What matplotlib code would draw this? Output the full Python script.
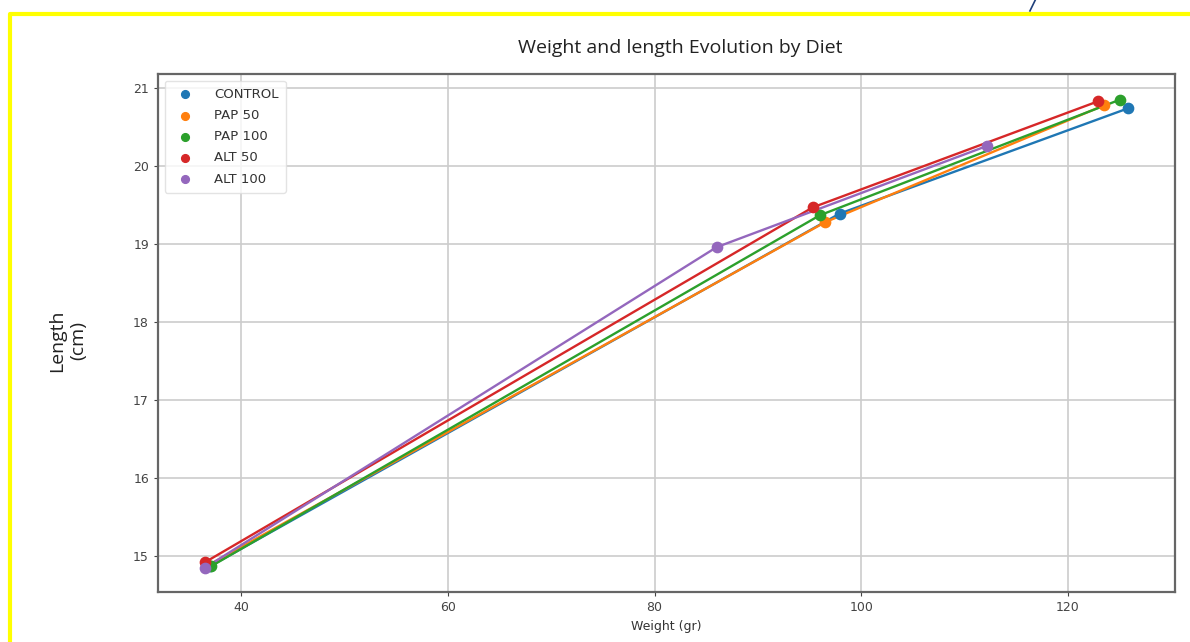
import matplotlib.pyplot as plt
from matplotlib.lines import Line2D

# Diet groups and their (weight, length) measurements over time
diets = ["CONTROL", "PAP 50", "PAP 100", "ALT 50", "ALT 100"]
colors = ["#1f77b4", "#ff7f0e", "#2ca02c", "#d62728", "#9467bd"]

control_w = [37.0, 97.9, 125.8]
control_l = [14.87, 19.39, 20.74]
pap50_w = [36.8, 96.5, 123.5]
pap50_l = [14.88, 19.28, 20.78]
pap100_w = [37.1, 96.0, 125.0]
pap100_l = [14.87, 19.37, 20.85]
alt50_w = [36.5, 95.3, 122.9]
alt50_l = [14.92, 19.47, 20.83]
alt100_w = [36.5, 86.0, 112.2]
alt100_l = [14.85, 18.96, 20.26]

weights = [control_w, pap50_w, pap100_w, alt50_w, alt100_w]
lengths = [control_l, pap50_l, pap100_l, alt50_l, alt100_l]

fig = plt.figure(figsize=(11.9, 6.42), dpi=100)
ax = fig.add_axes([0.1328, 0.0779, 0.8546, 0.8068])

for name, c, w, l in zip(diets, colors, weights, lengths):
    ax.plot(w, l, color=c, linewidth=1.7, zorder=2)
    ax.scatter(w, l, color=c, s=55, label=name, zorder=3)

ax.set_xlim(31.97, 130.35)
ax.set_ylim(14.54, 21.18)
ax.set_xticks([40, 60, 80, 100, 120])
ax.set_yticks([15, 16, 17, 18, 19, 20, 21])
ax.grid(True, color="#cccccc", linewidth=1.2)
ax.set_axisbelow(True)
ax.tick_params(labelsize=9, colors="#444444", length=3)
for s in ax.spines.values():
    s.set_color("#666666")
    s.set_linewidth(1.6)

ax.legend(loc="upper left", fontsize=9.5, labelcolor="#333333",
          handletextpad=1.2, borderpad=0.55, labelspacing=0.62,
          markerscale=0.75, framealpha=0.8, edgecolor="#dddddd")

ax.set_xlabel("Weight (gr)", fontsize=9, color="#333333", labelpad=4)
fig.text(0.057, 0.47, "Length\n(cm)", rotation=90, ha="center", va="center",
         fontsize=14, family="Open Sans", color="#222222", linespacing=1.25)
fig.text(0.572, 0.925, "Weight and length Evolution by Diet", ha="center",
         va="center", fontsize=14, family="Open Sans", color="#222222")

# screenshot frame and stray stroke
fig.add_artist(Line2D([0.0084, 0.0084, 1.0], [0.0, 0.978, 0.978],
                      transform=fig.transFigure, color="#ffff00", linewidth=3))
fig.add_artist(Line2D([0.8655, 0.8700], [0.983, 1.0],
                      transform=fig.transFigure, color="#1f3f7a", linewidth=1.2))

fig.savefig("out.png", dpi=100)
